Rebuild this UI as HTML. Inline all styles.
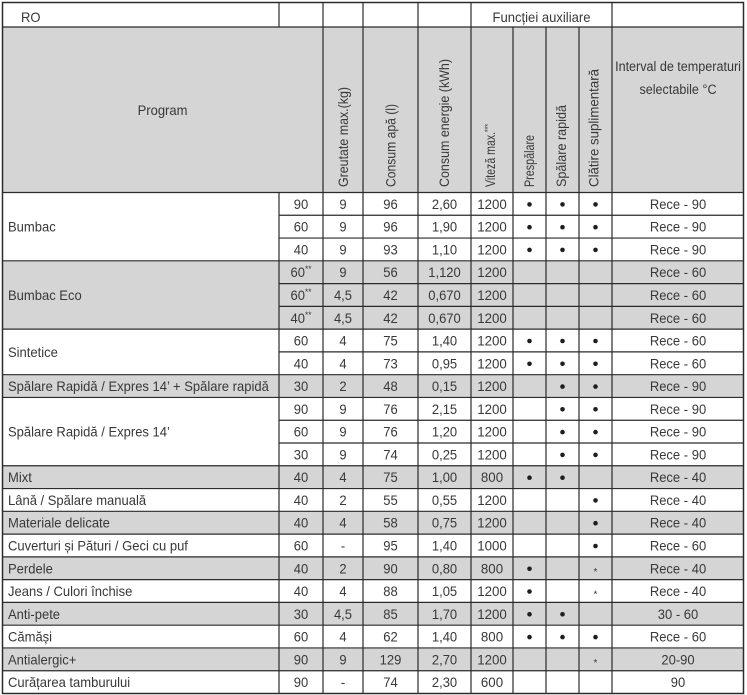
<!DOCTYPE html>
<html><head><meta charset="utf-8"><style>
html,body{margin:0;padding:0;background:#fff;}
svg{display:block;}
text{font-family:"Liberation Sans",Arial,sans-serif;font-size:14px;fill:#383838;}
.m text{text-anchor:middle;}
</style></head><body>
<svg width="747" height="695" viewBox="0 0 747 695" xmlns="http://www.w3.org/2000/svg">
<rect x="0" y="0" width="747" height="695" fill="#fff"/>
<!-- gray fills -->
<g fill="#d5d5d5">
<rect x="2.5" y="27" width="741" height="165.5"/>
<rect x="2.5" y="260.82" width="741" height="68.32"/>
<rect x="2.5" y="374.68" width="741" height="22.77"/>
<rect x="2.5" y="465.77" width="741" height="22.78"/>
<rect x="2.5" y="511.32" width="741" height="22.77"/>
<rect x="2.5" y="556.86" width="741" height="22.78"/>
<rect x="2.5" y="602.41" width="741" height="22.77"/>
<rect x="2.5" y="647.95" width="741" height="22.78"/>
</g>
<!-- lines -->
<g stroke="#2b2b2b" stroke-width="1.2" fill="none">
<path d="M279 2.5V27 M323 2.5V693.5 M363 2.5V693.5 M418 2.5V693.5 M471 2.5V693.5 M612 2.5V693.5 M513 27V693.5 M546 27V693.5 M579 27V693.5 M279 192.5V693.5"/>
<path d="M2.5 27H743.5 M2.5 192.5H743.5"/>
<path d="M279 215.27H743.5 M279 238.05H743.5 M279 283.59H743.5 M279 306.36H743.5 M279 351.91H743.5 M279 420.23H743.5 M279 443H743.5"/>
<path d="M2.5 260.82H743.5 M2.5 329.14H743.5 M2.5 374.68H743.5 M2.5 397.45H743.5 M2.5 465.77H743.5 M2.5 488.55H743.5 M2.5 511.32H743.5 M2.5 534.09H743.5 M2.5 556.86H743.5 M2.5 579.64H743.5 M2.5 602.41H743.5 M2.5 625.18H743.5 M2.5 647.95H743.5 M2.5 670.73H743.5"/>
<rect x="2.5" y="2.5" width="741" height="691" stroke-width="1.5"/>
</g>

<!-- header -->
<text x="21" y="22" transform="translate(21 0) scale(.93 1) translate(-21 0)">RO</text>
<text x="492.5" y="22" textLength="98" lengthAdjust="spacingAndGlyphs">Funcției auxiliare</text>
<g class="m">
<text x="0" y="115" transform="translate(162.5 0) scale(.93 1)">Program</text>
<text x="0" y="71" transform="translate(678 0) scale(.9 1)">Interval de temperaturi</text>
<text x="0" y="94" transform="translate(678 0) scale(.9 1)">selectabile °C</text>
</g>
<text transform="translate(348 187) rotate(-90)" x="0" y="0" textLength="100" lengthAdjust="spacingAndGlyphs">Greutate max.(kg)</text>
<text transform="translate(395.5 187) rotate(-90)" x="0" y="0" textLength="83" lengthAdjust="spacingAndGlyphs">Consum apă (l)</text>
<text transform="translate(449 187) rotate(-90)" x="0" y="0" textLength="128" lengthAdjust="spacingAndGlyphs">Consum energie (kWh)</text>
<text transform="translate(495 187) rotate(-90)" x="0" y="0" textLength="63" lengthAdjust="spacingAndGlyphs">Viteză max.<tspan font-size="9" dy="-4">***</tspan></text>
<text transform="translate(534 187) rotate(-90)" x="0" y="0" textLength="52" lengthAdjust="spacingAndGlyphs">Prespălare</text>
<text transform="translate(566 187) rotate(-90)" x="0" y="0" textLength="82" lengthAdjust="spacingAndGlyphs">Spălare rapidă</text>
<text transform="translate(598.5 187) rotate(-90)" x="0" y="0" textLength="118" lengthAdjust="spacingAndGlyphs">Clătire suplimentară</text>

<!-- program names -->
<g transform="translate(8 0) scale(.93 1)">
<text x="0" y="231.7">Bumbac</text>
<text x="0" y="300">Bumbac Eco</text>
<text x="0" y="356.9">Sintetice</text>
<text x="0" y="391.1">Spălare Rapidă / Expres 14’ + Spălare rapidă</text>
<text x="0" y="436.6">Spălare Rapidă / Expres 14’</text>
<text x="0" y="482.2">Mixt</text>
<text x="0" y="504.9">Lână / Spălare manuală</text>
<text x="0" y="527.7">Materiale delicate</text>
<text x="0" y="550.5">Cuverturi și Pături / Geci cu puf</text>
<text x="0" y="573.3">Perdele</text>
<text x="0" y="596">Jeans / Culori închise</text>
<text x="0" y="618.8">Anti-pete</text>
<text x="0" y="641.6">Cămăși</text>
<text x="0" y="664.3">Antialergic+</text>
<text x="0" y="687.1">Curățarea tamburului</text>
</g>

<!-- temperature -->
<g class="m" transform="translate(301 0) scale(.93 1)">
<text y="208.9">90</text><text y="231.7">60</text><text y="254.4">40</text>
<text y="277.2">60<tspan font-size="9" dy="-5">**</tspan></text>
<text y="300">60<tspan font-size="9" dy="-5">**</tspan></text>
<text y="322.8">40<tspan font-size="9" dy="-5">**</tspan></text>
<text y="345.5">60</text><text y="368.3">40</text><text y="391.1">30</text>
<text y="413.8">90</text><text y="436.6">60</text><text y="459.4">30</text>
<text y="482.2">40</text><text y="504.9">40</text><text y="527.7">40</text>
<text y="550.5">60</text><text y="573.3">40</text><text y="596">40</text>
<text y="618.8">30</text><text y="641.6">60</text><text y="664.3">90</text><text y="687.1">90</text>
</g>
<!-- greutate -->
<g class="m" transform="translate(343 0) scale(.93 1)">
<text y="208.9">9</text><text y="231.7">9</text><text y="254.4">9</text>
<text y="277.2">9</text><text y="300">4,5</text><text y="322.8">4,5</text>
<text y="345.5">4</text><text y="368.3">4</text><text y="391.1">2</text>
<text y="413.8">9</text><text y="436.6">9</text><text y="459.4">9</text>
<text y="482.2">4</text><text y="504.9">2</text><text y="527.7">4</text>
<text y="550.5">-</text><text y="573.3">2</text><text y="596">4</text>
<text y="618.8">4,5</text><text y="641.6">4</text><text y="664.3">9</text><text y="687.1">-</text>
</g>
<!-- apa -->
<g class="m" transform="translate(390.5 0) scale(.93 1)">
<text y="208.9">96</text><text y="231.7">96</text><text y="254.4">93</text>
<text y="277.2">56</text><text y="300">42</text><text y="322.8">42</text>
<text y="345.5">75</text><text y="368.3">73</text><text y="391.1">48</text>
<text y="413.8">76</text><text y="436.6">76</text><text y="459.4">74</text>
<text y="482.2">75</text><text y="504.9">55</text><text y="527.7">58</text>
<text y="550.5">95</text><text y="573.3">90</text><text y="596">88</text>
<text y="618.8">85</text><text y="641.6">62</text><text y="664.3">129</text><text y="687.1">74</text>
</g>
<!-- energie -->
<g class="m" transform="translate(444.5 0) scale(.93 1)">
<text y="208.9">2,60</text><text y="231.7">1,90</text><text y="254.4">1,10</text>
<text y="277.2">1,120</text><text y="300">0,670</text><text y="322.8">0,670</text>
<text y="345.5">1,40</text><text y="368.3">0,95</text><text y="391.1">0,15</text>
<text y="413.8">2,15</text><text y="436.6">1,20</text><text y="459.4">0,25</text>
<text y="482.2">1,00</text><text y="504.9">0,55</text><text y="527.7">0,75</text>
<text y="550.5">1,40</text><text y="573.3">0,80</text><text y="596">1,05</text>
<text y="618.8">1,70</text><text y="641.6">1,40</text><text y="664.3">2,70</text><text y="687.1">2,30</text>
</g>
<!-- viteza -->
<g class="m" transform="translate(492 0) scale(.95 1)">
<text y="208.9">1200</text><text y="231.7">1200</text><text y="254.4">1200</text>
<text y="277.2">1200</text><text y="300">1200</text><text y="322.8">1200</text>
<text y="345.5">1200</text><text y="368.3">1200</text><text y="391.1">1200</text>
<text y="413.8">1200</text><text y="436.6">1200</text><text y="459.4">1200</text>
<text y="482.2">800</text><text y="504.9">1200</text><text y="527.7">1200</text>
<text y="550.5">1000</text><text y="573.3">800</text><text y="596">1200</text>
<text y="618.8">1200</text><text y="641.6">800</text><text y="664.3">1200</text><text y="687.1">600</text>
</g>
<!-- bullets -->
<g fill="#1e1e1e">
<circle cx="529.5" cy="204.4" r="2.3"/><circle cx="529.5" cy="227.2" r="2.3"/><circle cx="529.5" cy="249.9" r="2.3"/>
<circle cx="529.5" cy="341" r="2.3"/><circle cx="529.5" cy="363.8" r="2.3"/>
<circle cx="529.5" cy="477.7" r="2.3"/>
<circle cx="529.5" cy="568.8" r="2.3"/><circle cx="529.5" cy="591.5" r="2.3"/><circle cx="529.5" cy="614.3" r="2.3"/><circle cx="529.5" cy="637.1" r="2.3"/>
<circle cx="562.5" cy="204.4" r="2.3"/><circle cx="562.5" cy="227.2" r="2.3"/><circle cx="562.5" cy="249.9" r="2.3"/>
<circle cx="562.5" cy="341" r="2.3"/><circle cx="562.5" cy="363.8" r="2.3"/>
<circle cx="562.5" cy="386.6" r="2.3"/>
<circle cx="562.5" cy="409.3" r="2.3"/><circle cx="562.5" cy="432.1" r="2.3"/><circle cx="562.5" cy="454.9" r="2.3"/>
<circle cx="562.5" cy="477.7" r="2.3"/>
<circle cx="562.5" cy="614.3" r="2.3"/><circle cx="562.5" cy="637.1" r="2.3"/>
<circle cx="595.5" cy="204.4" r="2.3"/><circle cx="595.5" cy="227.2" r="2.3"/><circle cx="595.5" cy="249.9" r="2.3"/>
<circle cx="595.5" cy="341" r="2.3"/><circle cx="595.5" cy="363.8" r="2.3"/>
<circle cx="595.5" cy="386.6" r="2.3"/>
<circle cx="595.5" cy="409.3" r="2.3"/><circle cx="595.5" cy="432.1" r="2.3"/><circle cx="595.5" cy="454.9" r="2.3"/>
<circle cx="595.5" cy="500.4" r="2.3"/><circle cx="595.5" cy="523.2" r="2.3"/><circle cx="595.5" cy="546" r="2.3"/>
<circle cx="595.5" cy="637.1" r="2.3"/>
</g>
<g class="m">
<text x="595.5" y="574.8" style="font-size:10px">*</text>
<text x="595.5" y="597.5" style="font-size:10px">*</text>
<text x="595.5" y="665.8" style="font-size:10px">*</text>
</g>
<!-- interval -->
<g class="m" transform="translate(678 0) scale(.93 1)">
<text y="208.9">Rece - 90</text><text y="231.7">Rece - 90</text><text y="254.4">Rece - 90</text>
<text y="277.2">Rece - 60</text><text y="300">Rece - 60</text><text y="322.8">Rece - 60</text>
<text y="345.5">Rece - 60</text><text y="368.3">Rece - 60</text><text y="391.1">Rece - 90</text>
<text y="413.8">Rece - 90</text><text y="436.6">Rece - 90</text><text y="459.4">Rece - 90</text>
<text y="482.2">Rece - 40</text><text y="504.9">Rece - 40</text><text y="527.7">Rece - 40</text>
<text y="550.5">Rece - 60</text><text y="573.3">Rece - 40</text><text y="596">Rece - 40</text>
<text y="618.8">30 - 60</text><text y="641.6">Rece - 60</text><text y="664.3">20-90</text><text y="687.1">90</text>
</g>
</svg>
</body></html>
